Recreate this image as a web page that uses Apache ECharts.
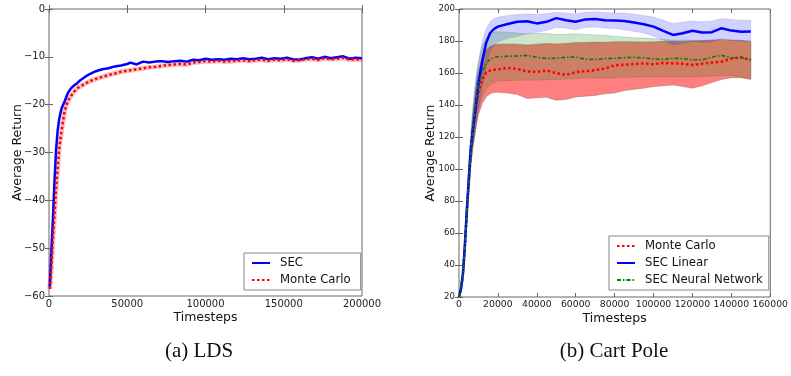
<!DOCTYPE html>
<html><head><meta charset="utf-8">
<script src="https://cdn.jsdelivr.net/npm/echarts@6/dist/echarts.min.js"></script>
<style>html,body{margin:0;padding:0;background:#fff}#c{width:791px;height:376px}</style>
</head><body><div id="c"></div>
<script>
// ---- Left chart (LDS) ----
const ldsX = [500,1500,2500,3500,4500,5500,6500,8000,10000,12000,14000,16000,18000,20000,23000,26000,30000,34000,38000,42000,46000,50000,
  52000,56000,60000,64000,68000,72000,76000,80000,84000,88000,92000,96000,100000,104000,108000,112000,116000,120000,124000,128000,132000,136000,140000,144000,148000,152000,156000,160000,164000,168000,172000,176000,180000,184000,188000,192000,196000,200000];
const ldsSEC = [-58,-51,-44,-36,-29.5,-25.5,-23,-20.8,-19.3,-17.6,-16.6,-16,-15.5,-14.9,-14.2,-13.6,-13,-12.6,-12.4,-12,-11.8,-11.5,
  -11.2,-11.6,-11.0,-11.2,-11.0,-10.9,-11.1,-10.9,-10.8,-11.0,-10.6,-10.7,-10.4,-10.6,-10.5,-10.6,-10.4,-10.5,-10.3,-10.5,-10.4,-10.2,-10.5,-10.3,-10.4,-10.2,-10.5,-10.6,-10.3,-10.1,-10.4,-10.0,-10.3,-10.1,-9.9,-10.4,-10.2,-10.3];
const ldsMC = [-58.5,-54,-48,-43,-37.5,-33.5,-29.2,-25.5,-21.3,-19.2,-18.2,-17.3,-16.6,-16.2,-15.6,-15.1,-14.6,-14.2,-13.8,-13.5,-13.1,-12.9,
  -12.8,-12.6,-12.4,-12.2,-12.1,-11.9,-11.7,-11.6,-11.5,-11.6,-11.2,-11.1,-10.9,-11.0,-10.8,-11.0,-10.9,-10.8,-10.7,-10.9,-10.7,-10.6,-10.8,-10.6,-10.7,-10.5,-10.8,-10.7,-10.5,-10.4,-10.6,-10.3,-10.5,-10.4,-10.2,-10.6,-10.5,-10.6];
const ldsXTicks = {min:0, max:200000, interval:50000};
const ldsYTicks = {min:-60, max:0, interval:10};

// ---- Right chart (Cart Pole) ----
const cpX = [0,1000,2000,3000,4000,5000,6000,7000,8000,9000,10000,12000,14000,16000,18000,20000,25000,30000,35000,40000,45000,50000,55000,60000,65000,70000,75000,80000,85000,90000,95000,100000,105000,110000,115000,120000,125000,130000,135000,140000,145000,150000];
const cpMC = [20,25,34,51,72,91,109,122,132,141,148,156,160.5,161.5,162,162.3,163.2,162.5,161,160.7,161.5,160,158.8,160.5,161.2,161.8,162.8,164.8,165.2,165.6,166,165.5,166.3,166,165.8,165,165.8,166.5,167,169,169.8,168];
const cpMCUp = [20,27,37,55,77,98,117,132,144,154,161,170,174.5,176.5,177.5,178,178.2,178,177.5,178,178.5,178.2,178.5,179,179,179.3,179.2,179.5,179.6,179.5,179.4,179.5,179.8,179.8,179.6,180,180.2,180.5,181,180.5,180.5,179.5];
const cpMCLo = [20,23,31,47,66,84,101,112,120,128,134,141,145,147,147.8,148,147.5,146.5,144,144.5,144.8,143,143.5,145,145.5,146,147,147.5,149,149.8,150.5,151.5,152,152.5,151.5,150.5,152,154,156,157,157,156];
const cpLin = [20,25,34,52,74,93,112,123,133,143,153,168,179,185,187.5,189,190.6,192,192.4,191,192,194.3,193,192,193.5,193.8,193,192.8,192.5,191.5,190.5,189,186.3,183.8,184.8,186.4,185.3,185.5,188,186.5,185.8,186];
const cpLinUp = [20,28,39,58,82,104,124,138,150,160,168,180,188,192,194,195,196,196.5,197,196.5,197.2,198,197.5,197,198,198.3,197.8,197.5,197.5,196.8,196,195,193,191,191.8,192.5,192,192.5,194,193.5,193,193];
const cpLinLo = [20,23,30,46,66,84,102,112,120,128,137,152,164,174,177,179.5,181.5,183,184.5,185.5,186.5,188.5,188,187,188.5,188.8,188,187.8,187,186,185,183,180.5,177.5,178.5,180,179,179.5,181.5,180.5,180,180];
const cpNN = [20,25,34,51,72,92,110,124,135,145,152,161,166,168.5,169.8,170.2,170.5,170.6,171,169.8,169.1,169.2,169.8,170,168.6,168.4,169,169.2,169.6,169.8,169.4,168.8,168.5,169.2,169,168.3,168.2,170,171,169.5,169.5,168.5];
const cpNNUp = [20,27,37,55,78,99,118,134,147,158,166,177,182,184.5,185.5,185.8,185.5,185,184.5,184.8,184.6,184,184.2,184.5,184,183.8,183.5,183,182.5,182,181.8,181.5,181,180.5,180.5,180.5,180.3,180.5,181,180.5,180,180];
const cpNNLo = [20,23,31,47,66,85,102,114,123,132,138,145,150,152.5,154,155,155.2,155.5,155.5,155.5,155.8,156,156.3,156.5,156.8,157,157,157,157.2,157.5,157.5,157.5,157.5,157.5,157.5,157.5,157.8,158,158.5,158.5,157.5,156.5];
const cpXTicks = {min:0, max:160000, interval:20000};
const cpYTicks = {min:20, max:200, interval:20};

const pairs = (xs, ys) => xs.map((x, i) => [x, ys[i]]);
const plain = v => String(v).replace('-', '\u2212');
const FONT = '"DejaVu Sans"';
const AX = '#666';

function bandSeries(xi, yi, up, lo, fill, stroke) {
  return {
    type: 'custom', xAxisIndex: xi, yAxisIndex: yi, silent: true, z: 1,
    data: [[cpX[0], up[0]]], encode: {x: 0, y: 1},
    renderItem: (params, api) => {
      const pts = [];
      for (let i = 0; i < cpX.length; i++) pts.push(api.coord([cpX[i], up[i]]));
      for (let i = cpX.length - 1; i >= 0; i--) pts.push(api.coord([cpX[i], lo[i]]));
      return {type: 'polygon', shape: {points: pts}, style: {fill: fill, stroke: stroke, lineWidth: 0.7}};
    }
  };
}

function bottomAxis(grid, t, fs) {
  return {type: 'value', gridIndex: grid, min: t.min, max: t.max, interval: t.interval,
    name: 'Timesteps', nameLocation: 'middle', nameGap: 15.5, nameMoveOverlap: false,
    nameTextStyle: {fontFamily: FONT, fontSize: 12.5, color: '#111'},
    axisLine: {show: false}, splitLine: {show: false},
    axisTick: {show: true, inside: true, length: 4, lineStyle: {color: AX}},
    axisLabel: {fontFamily: FONT, fontSize: fs, color: '#222', margin: 3, showMinLabel: true, showMaxLabel: true, formatter: plain}};
}
function topAxis(grid, t) {
  return {type: 'value', gridIndex: grid, position: 'top', min: t.min, max: t.max, interval: t.interval,
    axisLine: {show: false}, splitLine: {show: false}, axisLabel: {show: false},
    axisTick: {show: true, inside: true, length: 4, lineStyle: {color: AX}}};
}
function leftAxis(grid, t, fs, gap) {
  return {type: 'value', gridIndex: grid, min: t.min, max: t.max, interval: t.interval,
    name: 'Average Return', nameLocation: 'middle', nameGap: gap, nameMoveOverlap: false,
    nameTextStyle: {fontFamily: FONT, fontSize: 12.5, color: '#111'},
    axisLine: {show: false}, splitLine: {show: false},
    axisTick: {show: true, inside: true, length: 4, lineStyle: {color: AX}},
    axisLabel: {fontFamily: FONT, fontSize: fs, color: '#222', margin: 4, formatter: plain}};
}
function rightAxis(grid, t) {
  return {type: 'value', gridIndex: grid, position: 'right', min: t.min, max: t.max, interval: t.interval,
    axisLine: {show: false}, splitLine: {show: false}, axisLabel: {show: false},
    axisTick: {show: true, inside: true, length: 4, lineStyle: {color: AX}}};
}

const legendCommon = {
  orient: 'vertical', backgroundColor: '#fff', borderColor: '#888', borderWidth: 1, borderRadius: 0,
  itemWidth: 18, itemHeight: 12, itemGap: 5, selectedMode: false,
  itemStyle: {opacity: 0, borderWidth: 0},
  textStyle: {fontFamily: FONT, fontSize: 11.7, color: '#111', padding: [0, 0, 0, 5]}
};

const chart = echarts.init(document.getElementById('c'), null, {renderer: 'canvas'});
chart.setOption({
  animation: false,
  backgroundColor: '#fff',
  grid: [
    {left: 49, top: 9, width: 313, height: 287, show: true, borderColor: AX, borderWidth: 1, backgroundColor: 'transparent'},
    {left: 459, top: 9, width: 315, height: 288, show: true, borderColor: AX, borderWidth: 1, backgroundColor: 'transparent'}
  ],
  xAxis: [bottomAxis(0, ldsXTicks, 10), topAxis(0, ldsXTicks), bottomAxis(1, cpXTicks, 9.3), topAxis(1, cpXTicks)],
  yAxis: [leftAxis(0, ldsYTicks, 10, 25), rightAxis(0, ldsYTicks), leftAxis(1, cpYTicks, 8.6, 22), rightAxis(1, cpYTicks)],
  legend: [
    Object.assign({}, legendCommon, {data: ['SEC', 'Monte Carlo'], left: 244, top: 253, padding: [4, 10, 4, 7]}),
    Object.assign({}, legendCommon, {data: ['Monte Carlo', 'SEC Linear', 'SEC Neural Network'], left: 609, top: 236, padding: [4, 6, 4, 7]})
  ],
  graphic: [
    {type: 'text', x: 199, y: 351, style: {text: '(a) LDS', font: '21px "Liberation Serif"', fill: '#111', align: 'center', verticalAlign: 'middle'}},
    {type: 'text', x: 614, y: 351, style: {text: '(b) Cart Pole', font: '21px "Liberation Serif"', fill: '#111', align: 'center', verticalAlign: 'middle'}}
  ],
  series: [
    // left chart
    {name: 'mcHalo', type: 'line', xAxisIndex: 0, yAxisIndex: 0, data: pairs(ldsX, ldsMC), symbol: 'none', silent: true,
     lineStyle: {color: 'rgba(230,120,120,0.45)', width: 5}, z: 1},
    {name: 'Monte Carlo', type: 'line', xAxisIndex: 0, yAxisIndex: 0, data: pairs(ldsX, ldsMC), symbol: 'none',
     lineStyle: {color: '#ff0000', width: 2.5, type: [2.5, 2.5], cap: 'butt'}, itemStyle: {color: '#ff0000'}, z: 3},
    {name: 'SEC', type: 'line', xAxisIndex: 0, yAxisIndex: 0, data: pairs(ldsX, ldsSEC), symbol: 'none',
     lineStyle: {color: '#0000ff', width: 2.5}, itemStyle: {color: '#0000ff'}, z: 2},
    // right chart bands
    bandSeries(2, 2, cpMCUp, cpMCLo, 'rgba(255,0,0,0.5)', 'rgba(120,90,90,0.5)'),
    bandSeries(2, 2, cpLinUp, cpLinLo, 'rgba(0,0,255,0.18)', 'rgba(0,0,200,0.15)'),
    bandSeries(2, 2, cpNNUp, cpNNLo, 'rgba(0,128,0,0.2)', 'rgba(60,100,60,0.3)'),
    // right chart lines
    {name: 'Monte Carlo', type: 'line', xAxisIndex: 2, yAxisIndex: 2, data: pairs(cpX, cpMC), symbol: 'none',
     lineStyle: {color: '#ff0000', width: 2.5, type: [2.5, 2.5], cap: 'butt'}, itemStyle: {color: '#ff0000'}, z: 3},
    {name: 'SEC Linear', type: 'line', xAxisIndex: 2, yAxisIndex: 2, data: pairs(cpX, cpLin), symbol: 'none',
     lineStyle: {color: '#0000ff', width: 2.5}, itemStyle: {color: '#0000ff'}, z: 3},
    {name: 'SEC Neural Network', type: 'line', xAxisIndex: 2, yAxisIndex: 2, data: pairs(cpX, cpNN), symbol: 'none',
     lineStyle: {color: '#008000', width: 1.6, type: [4, 2, 1.5, 2], cap: 'butt'}, itemStyle: {color: '#008000'}, z: 4}
  ]
});
</script>
</body></html>
